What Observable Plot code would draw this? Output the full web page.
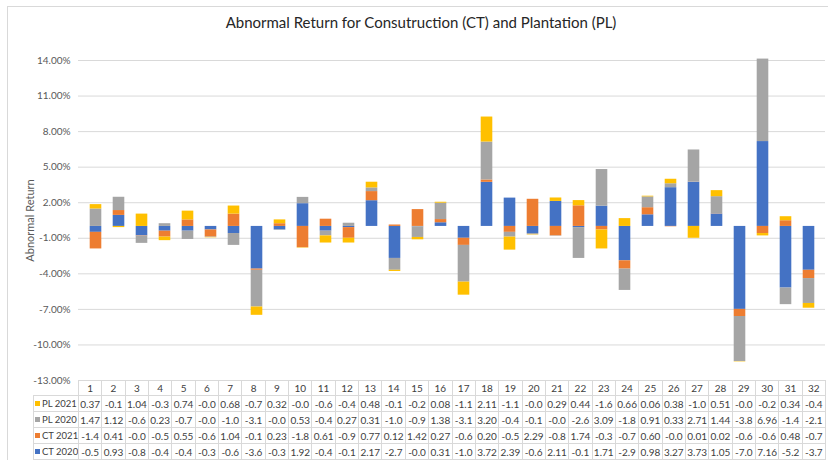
<!DOCTYPE html>
<html>
<head>
<meta charset="utf-8">
<script src="https://cdn.jsdelivr.net/npm/d3@7"></script>
<script src="https://cdn.jsdelivr.net/npm/@observablehq/plot@0.6"></script>
<style>
  html, body { margin: 0; padding: 0; background: #fff; }
  #wrap { position: relative; width: 828px; height: 460px; overflow: hidden; font-family: Lato, "Liberation Sans", sans-serif; }
  #frame { position: absolute; left: 7px; top: 6px; width: 830px; height: 470px; border: 1px solid #d9d9d9; box-sizing: border-box; }
  #title { position: absolute; left: 0; width: 842px; top: 13px; text-align: center; font-size: 15px; color: #262626; }
  #chart { position: absolute; left: 0; top: 0; }
  #chart [aria-label="y-axis label"] { font-size: 11px; }
  #tbl { position: absolute; left: 33px; top: 380px; border-collapse: collapse; table-layout: fixed; font-size: 10px; color: #404040; background: transparent; }
  #tbl td { border: 1px solid #d9d9d9; height: 15px; padding: 0; text-align: center; white-space: nowrap; overflow: hidden; background: #fff; }
  #tbl tr.hdr td { height: 14px; }
  #tbl td.lab { text-align: left; padding-left: 1px; font-size: 9.5px; }
  #tbl td.blank { border: none; border-right: 1px solid #d9d9d9; background: transparent; }
  .sw { display: inline-block; width: 5px; height: 5px; margin-right: 2px; vertical-align: 1px; }
</style>
</head>
<body>
<div id="wrap">
  <div id="frame"></div>
  <div id="title">Abnormal Return for Consutruction (CT) and Plantation (PL)</div>
  <div id="chart"></div>
  <table id="tbl"></table>
</div>
<script>
const categories = Array.from({length: 32}, (_, i) => String(i + 1));
const seriesNames = ["CT 2020", "CT 2021", "PL 2020", "PL 2021"];
const seriesColors = ["#4472C4", "#ED7D31", "#A5A5A5", "#FFC000"];
const yTicks = [-13, -10, -7, -4, -1, 2, 5, 8, 11, 14];

const pl2021 = [0.37,-0.1,1.04,-0.3,0.74,-0.03,0.68,-0.7,0.32,-0.03,-0.6,-0.4,0.48,-0.1,-0.2,0.08,-1.1,2.11,-1.1,-0.03,0.29,0.44,-1.6,0.66,0.06,0.38,-1.0,0.51,-0.03,-0.2,0.34,-0.4];
const pl2020 = [1.47,1.12,-0.6,0.23,-0.7,-0.03,-1.0,-3.1,-0.03,0.53,-0.4,0.27,0.31,-1.0,-0.9,1.38,-3.1,3.20,-0.4,-0.1,-0.03,-2.6,3.09,-1.8,0.91,0.33,2.71,1.44,-3.8,6.96,-1.4,-2.1];
const ct2021 = [-1.4,0.41,-0.03,-0.5,0.55,-0.6,1.04,-0.1,0.23,-1.8,0.61,-0.9,0.77,0.12,1.42,0.27,-0.6,0.20,-0.5,2.29,-0.8,1.74,-0.3,-0.7,0.60,-0.03,0.01,0.02,-0.6,-0.6,0.48,-0.7];
const ct2020 = [-0.5,0.93,-0.8,-0.4,-0.4,-0.3,-0.6,-3.6,-0.3,1.92,-0.4,-0.1,2.17,-2.7,-0.03,0.31,-1.0,3.72,2.39,-0.6,2.11,-0.1,1.71,-2.9,0.98,3.27,3.73,1.05,-7.0,7.16,-5.2,-3.7];

const seriesValues = {"CT 2020": ct2020, "CT 2021": ct2021, "PL 2020": pl2020, "PL 2021": pl2021};

const rows = [];
categories.forEach((c, i) => {
  seriesNames.forEach(s => rows.push({category: c, series: s, value: seriesValues[s][i]}));
});

const chart = Plot.plot({
  width: 828,
  height: 392,
  marginLeft: 78,
  marginRight: 3,
  marginTop: 60,
  marginBottom: 12,
  style: {fontFamily: "Lato, 'Liberation Sans', sans-serif", fontSize: "10px", color: "#595959", background: "transparent", overflow: "visible"},
  x: {domain: categories, axis: null, padding: 0},
  y: {domain: [-13, 14], ticks: yTicks, tickFormat: d => d.toFixed(2) + "%", tickSize: 0, tickPadding: 8,
      label: "Abnormal Return", labelAnchor: "center", labelArrow: "none", labelOffset: 52},
  color: {domain: seriesNames, range: seriesColors},
  marks: [
    Plot.ruleY(yTicks, {stroke: "#d9d9d9", strokeWidth: 1}),
    Plot.barY(rows, {x: "category", y: "value", fill: "series", z: "series", insetLeft: 5.7, insetRight: 5.7})
  ]
});
document.getElementById("chart").appendChild(chart);

// data table
const colW = 747 / 32;
const tbl = document.getElementById("tbl");
const colgroup = document.createElement("colgroup");
const c0 = document.createElement("col"); c0.style.width = "45px"; colgroup.appendChild(c0);
categories.forEach(() => { const c = document.createElement("col"); c.style.width = colW + "px"; colgroup.appendChild(c); });
tbl.appendChild(colgroup);
tbl.style.width = (45 + 747) + "px";
const fmt = v => v >= 0 ? v.toFixed(2) : "-" + Math.abs(v).toFixed(1);
const hdr = document.createElement("tr"); hdr.className = "hdr";
const blank = document.createElement("td"); blank.className = "blank"; hdr.appendChild(blank);
categories.forEach(c => { const td = document.createElement("td"); td.textContent = c; hdr.appendChild(td); });
tbl.appendChild(hdr);
["PL 2021", "PL 2020", "CT 2021", "CT 2020"].forEach(s => {
  const tr = document.createElement("tr");
  const lab = document.createElement("td"); lab.className = "lab";
  const sw = document.createElement("span"); sw.className = "sw"; sw.style.background = seriesColors[seriesNames.indexOf(s)];
  lab.appendChild(sw); lab.appendChild(document.createTextNode(s));
  tr.appendChild(lab);
  seriesValues[s].forEach(v => { const td = document.createElement("td"); td.textContent = fmt(v); tr.appendChild(td); });
  tbl.appendChild(tr);
});
</script>
</body>
</html>
